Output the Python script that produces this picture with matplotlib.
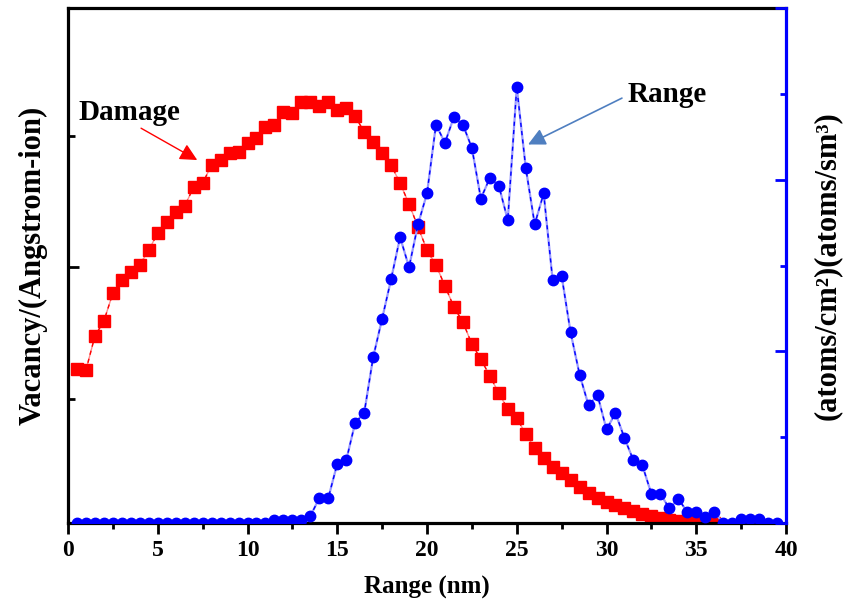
import numpy as np
import matplotlib.pyplot as plt
from matplotlib.ticker import MultipleLocator

plt.rcParams['font.family'] = ['Liberation Serif', 'DejaVu Serif']
plt.rcParams['font.weight'] = 'bold'
plt.rcParams['axes.labelweight'] = 'bold'

# depth grid of the SRIM bins (nm)
depth_damage = np.arange(0.5, 36.01, 0.5)
depth_range = np.arange(0.5, 39.51, 0.5)

# vacancies per angstrom-ion (left axis, arbitrary scale)
damage = [0.612, 0.608, 0.738, 0.795, 0.901, 0.951, 0.981, 1.008, 1.065, 1.129,
          1.171, 1.209, 1.232, 1.304, 1.319, 1.388, 1.407, 1.433, 1.437, 1.471,
          1.490, 1.532, 1.540, 1.589, 1.586, 1.627, 1.627, 1.612, 1.627, 1.597,
          1.605, 1.574, 1.513, 1.475, 1.433, 1.388, 1.319, 1.240, 1.152, 1.065,
          1.008, 0.928, 0.848, 0.791, 0.707, 0.650, 0.586, 0.521, 0.460, 0.426,
          0.365, 0.312, 0.274, 0.240, 0.217, 0.190, 0.163, 0.141, 0.122, 0.106,
          0.095, 0.084, 0.072, 0.061, 0.053, 0.046, 0.040, 0.036, 0.033, 0.030,
          0.029, 0.027]

# ion range distribution (right axis, arbitrary scale)
ions = [0.0] * 22 + [
    0.04, 0.04, 0.04, 0.04, 0.08, 0.29, 0.29, 0.69, 0.73, 1.17,
    1.28, 1.93, 2.38, 2.84, 3.33, 2.98, 3.48, 3.84, 4.64, 4.43,
    4.73, 4.64, 4.37, 3.78, 4.02, 3.93, 3.53, 5.08, 4.14, 3.48,
    3.84, 2.83, 2.88, 2.22, 1.73, 1.37, 1.49, 1.09, 1.28, 0.99,
    0.73, 0.67, 0.34, 0.34, 0.17, 0.28, 0.13, 0.13, 0.07, 0.13,
    0.0, 0.0, 0.05, 0.05, 0.05, 0.0, 0.0]

fig = plt.figure(figsize=(8.46, 6.03), dpi=100)
ax = fig.add_axes([68/846, 1-523/603, 718/846, 515/603])
ax2 = ax.twinx()

ax.plot(depth_damage, damage, c="#ff8c8c", lw=1.0)
ax.plot(depth_damage, damage, c="red", lw=1.0, ls=(0, (3, 3)),
        marker="s", ms=8, mfc="red", mec="red")

ax2.plot(depth_range, ions, c="#9a9aff", lw=1.6)
ax2.plot(depth_range, ions, c="blue", lw=1.0, ls=(0, (3, 3)),
         marker="o", ms=7.5, mfc="blue", mec="blue")

ax.set_xlim(0, 40)
ax.set_ylim(0.027, 1.985)
ax2.set_ylim(0, 6)

ax.xaxis.set_major_locator(MultipleLocator(5))
ax.xaxis.set_minor_locator(MultipleLocator(2.5))
ax.yaxis.set_major_locator(MultipleLocator(1))
ax.yaxis.set_minor_locator(MultipleLocator(0.5))
ax2.yaxis.set_major_locator(MultipleLocator(2))
ax2.yaxis.set_minor_locator(MultipleLocator(1))

ax.tick_params(axis="x", which="both", direction="out", width=2, labelsize=17, pad=4)
ax.tick_params(axis="x", which="major", length=8)
ax.tick_params(axis="x", which="minor", length=4.5)
ax.tick_params(axis="y", which="both", direction="in", width=2, labelleft=False)
ax.tick_params(axis="y", which="major", length=8)
ax.tick_params(axis="y", which="minor", length=5)
ax2.tick_params(axis="y", which="both", direction="in", width=2, colors="blue",
                labelright=False)
ax2.tick_params(axis="y", which="major", length=8)
ax2.tick_params(axis="y", which="minor", length=4.5)

for s in ["left", "bottom", "top"]:
    ax.spines[s].set_linewidth(2.3)
ax.spines["right"].set_visible(False)
for s in ["left", "bottom", "top"]:
    ax2.spines[s].set_visible(False)
ax2.spines["right"].set_color("blue")
ax2.spines["right"].set_linewidth(2.3)

ax.set_xlabel("Range (nm)", fontsize=18, labelpad=11)
ax.set_ylabel("Vacancy/(Angstrom-ion)", fontsize=22, labelpad=15)
ax2.set_ylabel("(atoms/cm²)(atoms/sm³)", fontsize=22, labelpad=19)

ax.text(3.4, 1.586, "Damage", fontsize=21, ha="center", va="center")
ax.annotate("", xy=(7.2, 1.407), xytext=(4.07, 1.528),
            arrowprops=dict(arrowstyle="-|>", color="red", lw=1,
                            shrinkA=0, shrinkB=0, mutation_scale=26))
ax2.text(33.4, 4.99, "Range", fontsize=21, ha="center", va="center")
ax2.annotate("", xy=(25.63, 4.41), xytext=(30.86, 4.95),
             arrowprops=dict(arrowstyle="-|>", color="#4f7fc0", lw=1.2,
                             shrinkA=0, shrinkB=0, mutation_scale=26))

fig.savefig("out.png", dpi=100)
